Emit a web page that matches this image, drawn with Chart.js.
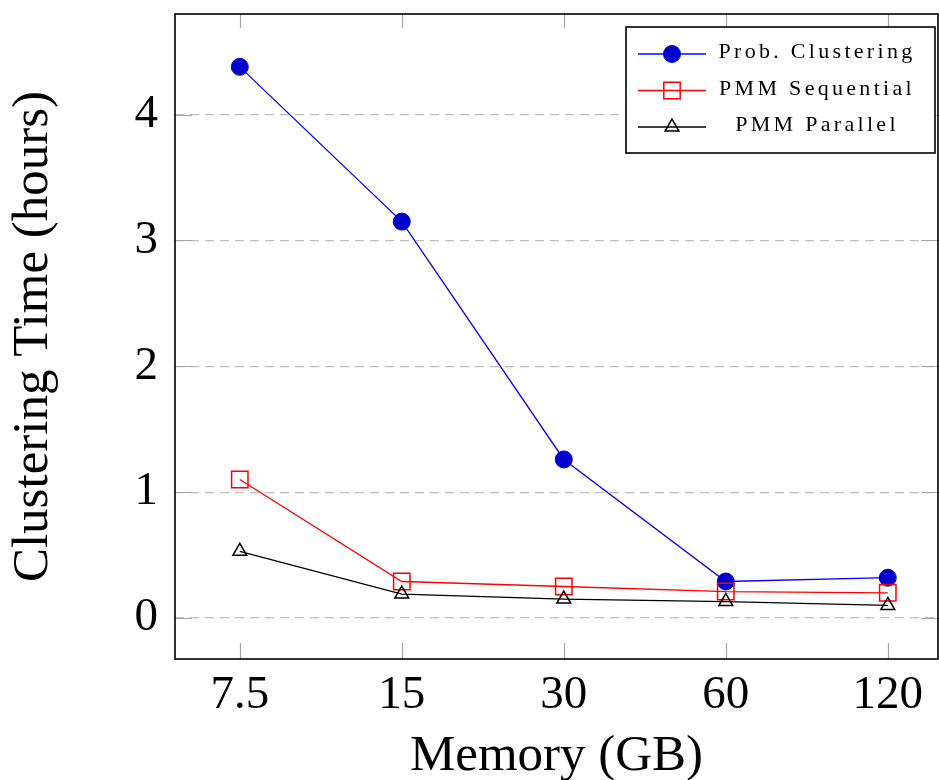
<!DOCTYPE html>
<html>
<head>
<meta charset="utf-8">
<script src="https://cdn.jsdelivr.net/npm/chart.js@4.4.0/dist/chart.umd.min.js"></script>
<style>
  html, body { margin: 0; padding: 0; background: #fff; }
  #wrap { width: 939px; height: 780px; }
</style>
</head>
<body>
<div id="wrap"><canvas id="clusterChart"></canvas></div>
<script>
// values
const memoryLabels = ['7.5', '15', '30', '60', '120'];
const probClustering = [4.38, 3.15, 1.26, 0.29, 0.32];
const pmmSequential = [1.10, 0.29, 0.25, 0.21, 0.20];
const pmmParallel = [0.53, 0.19, 0.15, 0.13, 0.10];
const yTicks = [0, 1, 2, 3, 4];
const seriesNames = ['Prob. Clustering', 'PMM Sequential', 'PMM Parallel'];

const SERIF = '"Liberation Serif", "DejaVu Serif", serif';

function toPoints(values) {
    return values.map((v, i) => ({ x: i, y: v }));
}

function noScalePadding(scale) {
    scale.paddingTop = 0;
    scale.paddingBottom = 0;
    scale.paddingLeft = 0;
    scale.paddingRight = 0;
}

// inner tick marks + black frame, pgfplots style
const frameAndTicks = {
    id: 'frameAndTicks',
    beforeDatasetsDraw(chart) {
        const { ctx, chartArea: a, scales: { x, y } } = chart;
        ctx.save();
        ctx.strokeStyle = '#a6a6a6';
        ctx.lineWidth = 1.2;
        ctx.beginPath();
        memoryLabels.forEach((_, i) => {
            const px = Math.round(x.getPixelForValue(i)) + 0.5;
            ctx.moveTo(px, a.bottom); ctx.lineTo(px, a.bottom - 16);
            ctx.moveTo(px, a.top); ctx.lineTo(px, a.top + 14);
        });
        yTicks.forEach(v => {
            const py = Math.round(y.getPixelForValue(v)) + 0.5;
            ctx.moveTo(a.left, py); ctx.lineTo(a.left + 17, py);
            ctx.moveTo(a.right, py); ctx.lineTo(a.right - 17, py);
        });
        ctx.stroke();
        ctx.strokeStyle = '#000';
        ctx.lineWidth = 1.6;
        ctx.strokeRect(a.left, a.top, a.right - a.left, a.bottom - a.top);
        ctx.restore();
    }
};

// boxed legend in the top right corner
const boxLegend = {
    id: 'boxLegend',
    afterDraw(chart) {
        const { ctx } = chart;
        const box = { left: 626, top: 27, width: 309, height: 126 };
        ctx.save();
        ctx.fillStyle = '#fff';
        ctx.fillRect(box.left, box.top, box.width, box.height);
        ctx.strokeStyle = '#000';
        ctx.lineWidth = 1.6;
        ctx.strokeRect(box.left, box.top, box.width, box.height);

        chart.data.datasets.forEach((ds, i) => {
            const rowY = box.top + 27 + i * 36.5;
            ctx.strokeStyle = ds.borderColor;
            ctx.lineWidth = ds.borderWidth;
            ctx.beginPath();
            ctx.moveTo(box.left + 12, rowY);
            ctx.lineTo(box.left + 80, rowY);
            ctx.stroke();

            ctx.fillStyle = ds.pointBackgroundColor;
            ctx.strokeStyle = ds.pointBorderColor;
            ctx.lineWidth = ds.pointBorderWidth;
            Chart.helpers.drawPoint(ctx, {
                pointStyle: ds.pointStyle,
                radius: ds.pointRadius,
                borderWidth: ds.pointBorderWidth,
                rotation: 0
            }, box.left + 46, rowY);

            ctx.fillStyle = '#000';
            ctx.font = '22px ' + SERIF;
            ctx.letterSpacing = '3.3px';
            ctx.textAlign = 'center';
            ctx.textBaseline = 'alphabetic';
            ctx.fillText(ds.label, box.left + 191, rowY + 4);
        });
        ctx.restore();
    }
};

const ctx = document.getElementById('clusterChart').getContext('2d');

new Chart(ctx, {
    type: 'line',
    data: {
        datasets: [{
            label: seriesNames[0],
            data: toPoints(probClustering),
            borderColor: '#0000ff',
            borderWidth: 1.3,
            pointStyle: 'circle',
            pointRadius: 8.5,
            pointBackgroundColor: '#0000cc',
            pointBorderColor: '#0000cc',
            pointBorderWidth: 1,
            order: 3
        }, {
            label: seriesNames[1],
            data: toPoints(pmmSequential),
            borderColor: '#ff0000',
            borderWidth: 1.3,
            pointStyle: 'rect',
            pointRadius: 11.6,
            pointBackgroundColor: 'rgba(0,0,0,0)',
            pointBorderColor: '#ff0000',
            pointBorderWidth: 1.5,
            order: 2
        }, {
            label: seriesNames[2],
            data: toPoints(pmmParallel),
            borderColor: '#000000',
            borderWidth: 1.3,
            pointStyle: 'triangle',
            pointRadius: 8,
            pointBackgroundColor: 'rgba(0,0,0,0)',
            pointBorderColor: '#000000',
            pointBorderWidth: 1.5,
            order: 1
        }]
    },
    options: {
        responsive: true,
        maintainAspectRatio: false,
        animation: false,
        // autoPadding would reserve room for the point radius on the right
        layout: { autoPadding: false, padding: { top: 14, right: 1, left: 0, bottom: 0 } },
        plugins: {
            legend: { display: false },
            tooltip: { enabled: false }
        },
        elements: { line: { tension: 0, fill: false } },
        scales: {
            x: {
                type: 'linear',
                min: -0.4,
                max: 4.31,
                afterBuildTicks: scale => { scale.ticks = memoryLabels.map((_, i) => ({ value: i })); },
                afterFit: scale => { scale.height = 121; noScalePadding(scale); },
                grid: { display: false, drawTicks: false },
                border: { display: false },
                ticks: {
                    autoSkip: false,
                    maxRotation: 0,
                    padding: 8,
                    color: '#000',
                    font: { family: SERIF, size: 47, lineHeight: 1.2 },
                    callback: v => memoryLabels[v]
                },
                title: {
                    display: true,
                    text: 'Memory (GB)',
                    color: '#000',
                    font: { family: SERIF, size: 51, lineHeight: 1 },
                    padding: { top: 0, bottom: -2 }
                }
            },
            y: {
                min: -0.326,
                max: 4.8,
                afterBuildTicks: scale => { scale.ticks = yTicks.map(v => ({ value: v })); },
                afterFit: scale => { scale.width = 175; noScalePadding(scale); },
                grid: { color: '#bdbdbd', lineWidth: 1.2, drawTicks: false },
                border: { display: false, dash: [9, 6] },
                ticks: {
                    padding: 17,
                    color: '#000',
                    font: { family: SERIF, size: 47 },
                    callback: v => String(v)
                },
                title: {
                    display: true,
                    text: 'Clustering Time (hours)',
                    color: '#000',
                    font: { family: SERIF, size: 51, lineHeight: 1 },
                    padding: { top: 8, bottom: 0 }
                }
            }
        }
    },
    plugins: [frameAndTicks, boxLegend]
});
</script>
</body>
</html>
